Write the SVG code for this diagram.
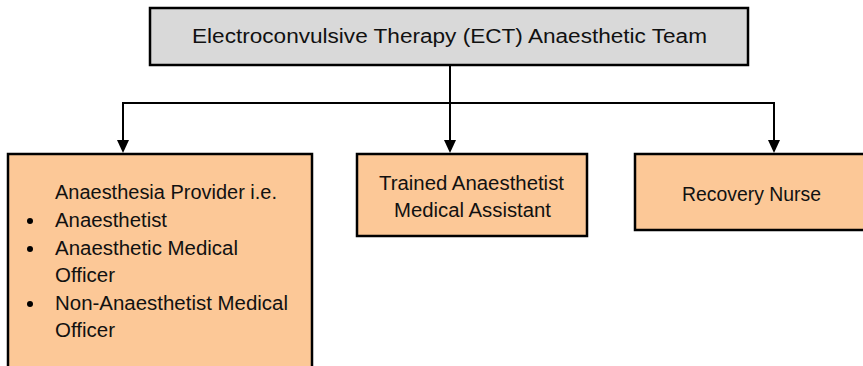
<svg xmlns="http://www.w3.org/2000/svg" width="863" height="366" viewBox="0 0 863 366">
<style>
.box{stroke:#000;stroke-width:2.5}
.top{fill:#d9d9d9}
.role{fill:#fcc897}
.t{font-family:"Liberation Sans",Arial,sans-serif;font-size:20px;fill:#111}
.ln{fill:none;stroke:#000;stroke-width:2}
</style>
<rect width="863" height="366" fill="#fff"/>
<g id="connectors">
<line class="ln" x1="450" y1="65" x2="450" y2="103"/>
<line class="ln" x1="122" y1="103" x2="775" y2="103"/>
<path class="ln" d="M123,103 V140"/>
<path class="ln" d="M450,103 V140"/>
<path class="ln" d="M774,103 V140"/>
<path d="M117,140 L129,140 L123,153 Z" fill="#000"/>
<path d="M444,140 L456,140 L450,153 Z" fill="#000"/>
<path d="M768,140 L780,140 L774,153 Z" fill="#000"/>
</g>
<g id="n-top">
<rect class="box top" x="150" y="8" width="598" height="57"/>
<text class="t" x="192" y="43" font-size="21" textLength="515" lengthAdjust="spacingAndGlyphs">Electroconvulsive Therapy (ECT) Anaesthetic Team</text>
</g>
<g id="n-provider">
<rect class="box role" x="8" y="154" width="304" height="220"/>
<text class="t" x="55" y="199" textLength="222" lengthAdjust="spacingAndGlyphs">Anaesthesia Provider i.e.</text>
<circle cx="30" cy="221" r="3"/>
<text class="t" x="55" y="227" textLength="112" lengthAdjust="spacingAndGlyphs">Anaesthetist</text>
<circle cx="30" cy="249" r="3"/>
<text class="t" x="55" y="255" textLength="183" lengthAdjust="spacingAndGlyphs">Anaesthetic Medical</text>
<text class="t" x="55" y="282" textLength="60" lengthAdjust="spacingAndGlyphs">Officer</text>
<circle cx="30" cy="304" r="3"/>
<text class="t" x="55" y="310" textLength="233" lengthAdjust="spacingAndGlyphs">Non-Anaesthetist Medical</text>
<text class="t" x="55" y="337" textLength="60" lengthAdjust="spacingAndGlyphs">Officer</text>
</g>
<g id="n-assistant">
<rect class="box role" x="357" y="154" width="230" height="82"/>
<text class="t" x="379" y="190" textLength="185" lengthAdjust="spacingAndGlyphs">Trained Anaesthetist</text>
<text class="t" x="394" y="217" textLength="157" lengthAdjust="spacingAndGlyphs">Medical Assistant</text>
</g>
<g id="n-nurse">
<rect class="box role" x="635" y="154" width="240" height="76"/>
<text class="t" x="682" y="201" textLength="139" lengthAdjust="spacingAndGlyphs">Recovery Nurse</text>
</g>
</svg>
